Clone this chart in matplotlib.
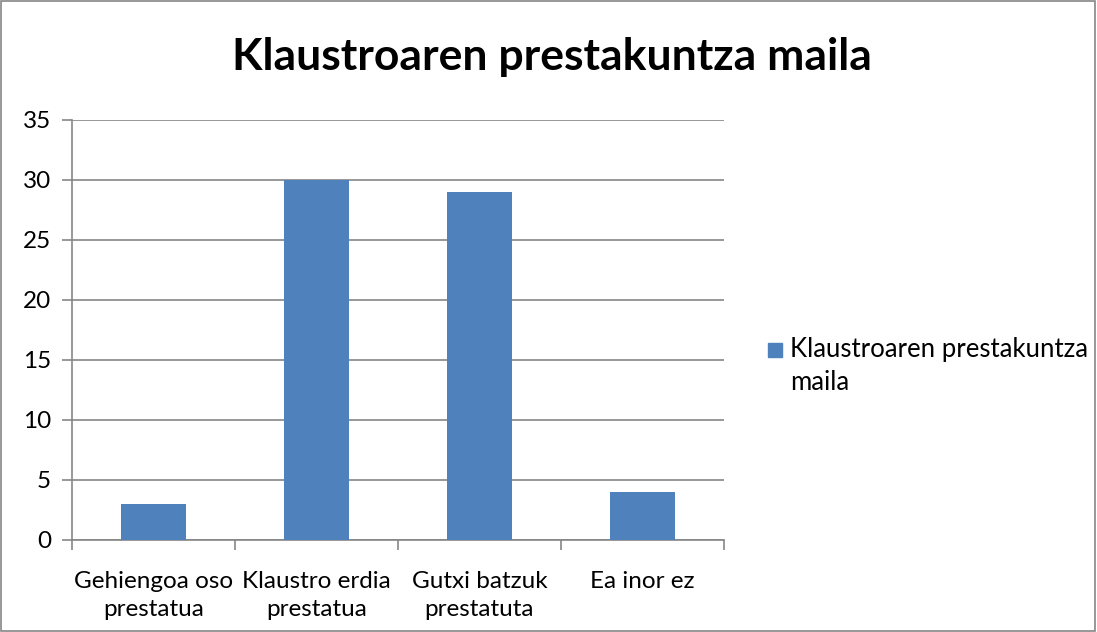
import matplotlib.pyplot as plt
from matplotlib.patches import Rectangle

# ---------------- DATA ----------------
categories = ["Gehiengoa oso\nprestatua", "Klaustro erdia\nprestatua",
              "Gutxi batzuk\nprestatuta", "Ea inor ez"]
values = [3, 30, 29, 4]
series_name = "Klaustroaren prestakuntza\nmaila"
title = "Klaustroaren prestakuntza maila"

bar_color = "#4F81BD"
grid_color = "#868686"

plt.rcParams["font.family"] = ["Lato", "DejaVu Sans"]

fig = plt.figure(figsize=(10.97, 6.32), dpi=100)
ax = fig.add_axes([72 / 1097, 92 / 632, 652 / 1097, 420 / 632])

# ---------------- BARS ----------------
x = list(range(len(categories)))
ax.bar(x, values, width=0.4, color=bar_color, zorder=3)

ax.set_xlim(-0.5, len(categories) - 0.5)
ax.set_ylim(0, 35)
ax.set_yticks(range(0, 36, 5))
ax.yaxis.grid(True, color=grid_color, linewidth=1.2, zorder=0)

# x ticks sit between categories, labels in the middle
ax.set_xticks([i - 0.5 for i in range(len(categories) + 1)])
ax.set_xticklabels([])
ax.set_xticks(x, minor=True)
ax.set_xticklabels(categories, minor=True, fontsize=17.5, linespacing=1.45)
ax.tick_params(axis="x", which="minor", length=0, pad=22)
ax.tick_params(axis="x", which="major", length=7, color=grid_color, width=1.2)
ax.tick_params(axis="y", length=7, color=grid_color, width=1.2, labelsize=17.5, pad=8)

for side in ["top", "right"]:
    ax.spines[side].set_visible(False)
for side in ["left", "bottom"]:
    ax.spines[side].set_color(grid_color)
    ax.spines[side].set_linewidth(1.2)

# ---------------- TITLE / LEGEND ----------------
fig.text(0.503, 1 - 57 / 632, title, ha="center", va="center", fontsize=32, fontweight="bold")

fig.patches.append(Rectangle((768 / 1097, 1 - 357 / 632), 14 / 1097, 14 / 632,
                             transform=fig.transFigure, color=bar_color))
fig.text(790 / 1097, 1 - 337 / 632, series_name, ha="left", va="top",
         fontsize=18.5, linespacing=1.4)

# outer frame
fig.patches.append(Rectangle((0.0005, 0.001), 0.998, 0.997, transform=fig.transFigure,
                             fill=False, edgecolor=grid_color, linewidth=1.2))

fig.savefig("out.png", dpi=100)
